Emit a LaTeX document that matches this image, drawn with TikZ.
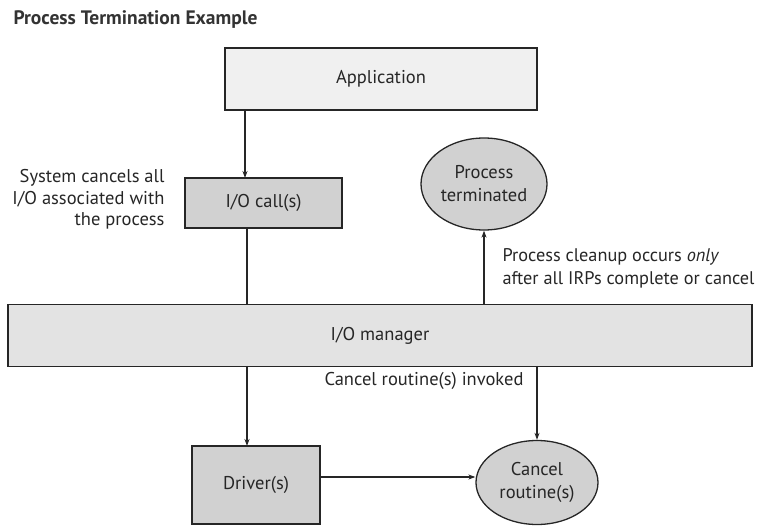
\documentclass[tikz,border=0pt]{standalone}
\usepackage{fontspec}
\setmainfont{PT Sans}
\usetikzlibrary{shapes.geometric,arrows.meta}
\begin{document}
\begin{tikzpicture}[x=1pt,y=-1pt,
  lbl/.style={font=\fontsize{18.5}{22}\selectfont,text=black!85},
  lightbox/.style={draw=black!85,line width=1.3pt,fill=black!6,inner sep=0pt},
  graybox/.style={draw=black!85,line width=1.3pt,fill=black!18,inner sep=0pt},
  grayell/.style={ellipse,draw=black!85,line width=1.3pt,fill=black!18,inner sep=0pt,align=center,text=black!85,font=\fontsize{18.5}{23}\selectfont},
  conn/.style={line width=1.1pt,draw=black!85},
  arr/.style={conn,-{Stealth[length=7pt,width=5pt]}}]
\useasboundingbox (0,0) rectangle (758,529);
\node[anchor=west,font=\fontsize{19.5}{22}\bfseries\selectfont,text=black!80] (title) at (10,20) {Process Termination Example};
\node[lightbox,minimum width=312pt,minimum height=62pt,lbl] (app) at (381,79) {Application};
\node[graybox,minimum width=157pt,minimum height=50pt,lbl] (ioc) at (263.5,203) {I/O call(s)};
\node[lbl,anchor=east,align=right,font=\fontsize{18.5}{21.5}\selectfont] (sys) at (168,199.5) {System cancels all\\I/O associated with\\the process};
\node[grayell,minimum width=126pt,minimum height=92pt] (pt) at (484,184) {Process\\terminated};
\node[lightbox,fill=black!11,minimum width=744pt,minimum height=62pt,lbl] (iom) at (380,335.5) {I/O manager};
\node[lbl,anchor=west,align=left,font=\fontsize{18.3}{23}\selectfont] (clean) at (499,268.5) {Process cleanup occurs \emph{only}\\after all IRPs complete or cancel};
\node[lbl] (inv) at (424,381) {Cancel routine(s) invoked};
\node[graybox,minimum width=128pt,minimum height=78pt,lbl] (drv) at (256,485) {Driver(s)};
\node[grayell,minimum width=122pt,minimum height=84pt] (cr) at (537,482.5) {Cancel\\routine(s)};
\coordinate (a1) at (245,110);
\draw[arr] (a1) -- (245,178);
\draw[conn] (247,228) -- (247,305);
\draw[arr] (484,305) -- (pt.south);
\draw[arr] (247,366) -- (247,446);
\draw[arr] (537,366) -- (cr.north);
\draw[arr] (drv.east |- 0,477) -- (cr.west |- 0,477);
\end{tikzpicture}
\end{document}
